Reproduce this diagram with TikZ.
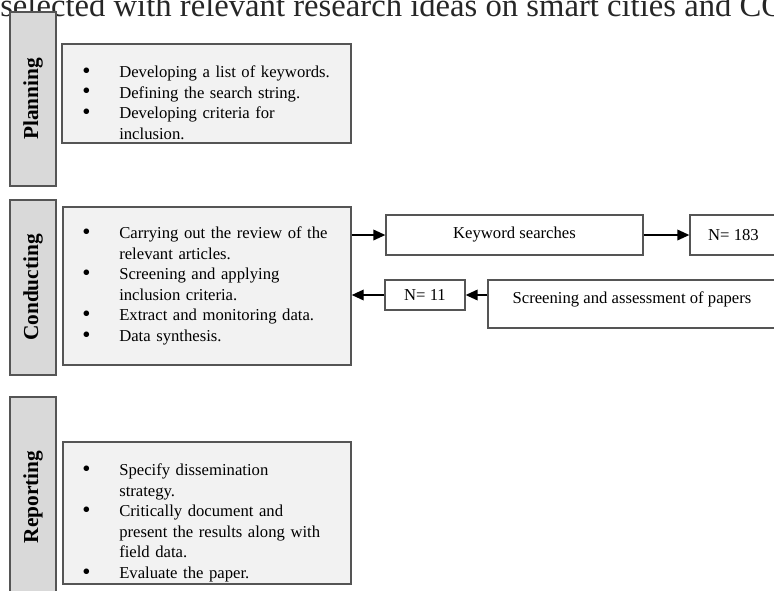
\documentclass[tikz,border=0pt]{standalone}
\usepackage{fontspec}
\setmainfont{Liberation Serif}
\usepackage{xcolor}
\usetikzlibrary{arrows.meta,positioning}
\definecolor{slrborder}{HTML}{555555}
\definecolor{slrside}{HTML}{D9D9D9}
\definecolor{slrfill}{HTML}{F2F2F2}
\newcommand{\slritem}[1]{\par\noindent\hangindent=39.75pt\hangafter=1%
  \makebox[39.75pt][l]{\hspace{12pt}\raisebox{-0.6pt}{\scalebox{1.4}{\textbullet}}}#1\par}

\begin{document}
\begin{tikzpicture}[x=0.75pt,y=-0.75pt,font=\fontsize{12.5}{15.4}\selectfont,
  side/.style={draw=slrborder,fill=slrside,line width=1.1pt,inner sep=0pt,
    minimum width=46*0.75pt,font=\fontsize{16}{19}\selectfont\bfseries},
  phasebox/.style={draw=slrborder,fill=slrfill,line width=1.1pt,inner sep=0pt},
  listtext/.style={anchor=base west,text width=280*0.75pt,align=left,inner sep=0pt},
  stepbox/.style={draw=slrborder,fill=white,line width=1pt,inner sep=0pt},
  arr/.style={-{Triangle[length=9pt,width=8pt]},line width=1.1pt,black}]
\useasboundingbox (0,0) rectangle (774,590);
\clip (0,0) rectangle (774,590);
\node[anchor=base west,inner sep=0pt,font=\fontsize{24.5}{28}\selectfont,text=black!85] (heading) at (0,16)
  {selected with relevant research ideas on smart cities and CO};
% phases
\node[side,minimum height=174*0.75pt] (plan) at (33,99) {\rotatebox{90}{Planning}};
\node[side,minimum height=175*0.75pt] (cond) at (33,287.5) {\rotatebox{90}{Conducting}};
\node[side,minimum height=200*0.75pt] (rep) at (33,497) {\rotatebox{90}{Reporting}};
\node[phasebox,minimum width=289*0.75pt,minimum height=99*0.75pt] (planbox) at (206.5,93.5) {};
\node[phasebox,minimum width=288*0.75pt,minimum height=158*0.75pt] (condbox) at (207,286) {};
\node[phasebox,minimum width=288*0.75pt,minimum height=142*0.75pt] (repbox) at (207,513) {};
\node[listtext] (plantext) at (66,57) {%
  \slritem{Developing a list of keywords.}
  \slritem{Defining the search string.}
  \slritem{Developing criteria for\newline inclusion.}};
\node[listtext] (condtext) at (66,218) {%
  \slritem{Carrying out the review of the\newline relevant articles.}
  \slritem{Screening and applying\newline inclusion criteria.}
  \slritem{Extract and monitoring data.}
  \slritem{Data synthesis.}};
\node[listtext] (reptext) at (66,455) {%
  \slritem{Specify dissemination\newline strategy.}
  \slritem{Critically document and\newline present the results along with\newline field data.}
  \slritem{Evaluate the paper.}};
% search steps
\node[stepbox,minimum width=257*0.75pt,minimum height=40*0.75pt] (kw) at (514.5,235) {Keyword searches};
\node[stepbox,minimum width=87*0.75pt,minimum height=40*0.75pt] (found) at (733.5,235) {N= 183};
\node[stepbox,minimum width=288*0.75pt,minimum height=48*0.75pt,text depth=9.7pt] (screen) at (632,304)
  {Screening and assessment of papers};
\node[stepbox,minimum width=80*0.75pt,minimum height=30*0.75pt] (kept) at (425,295) {N= 11};
\draw[arr] (condbox.east |- kw.west) -- (kw.west);
\draw[arr] (kw) -- (found);
\draw[arr] (screen.west |- kept.east) -- (kept.east);
\draw[arr] (kept.west) -- (condbox.east |- kept.west);
\end{tikzpicture}
\end{document}
